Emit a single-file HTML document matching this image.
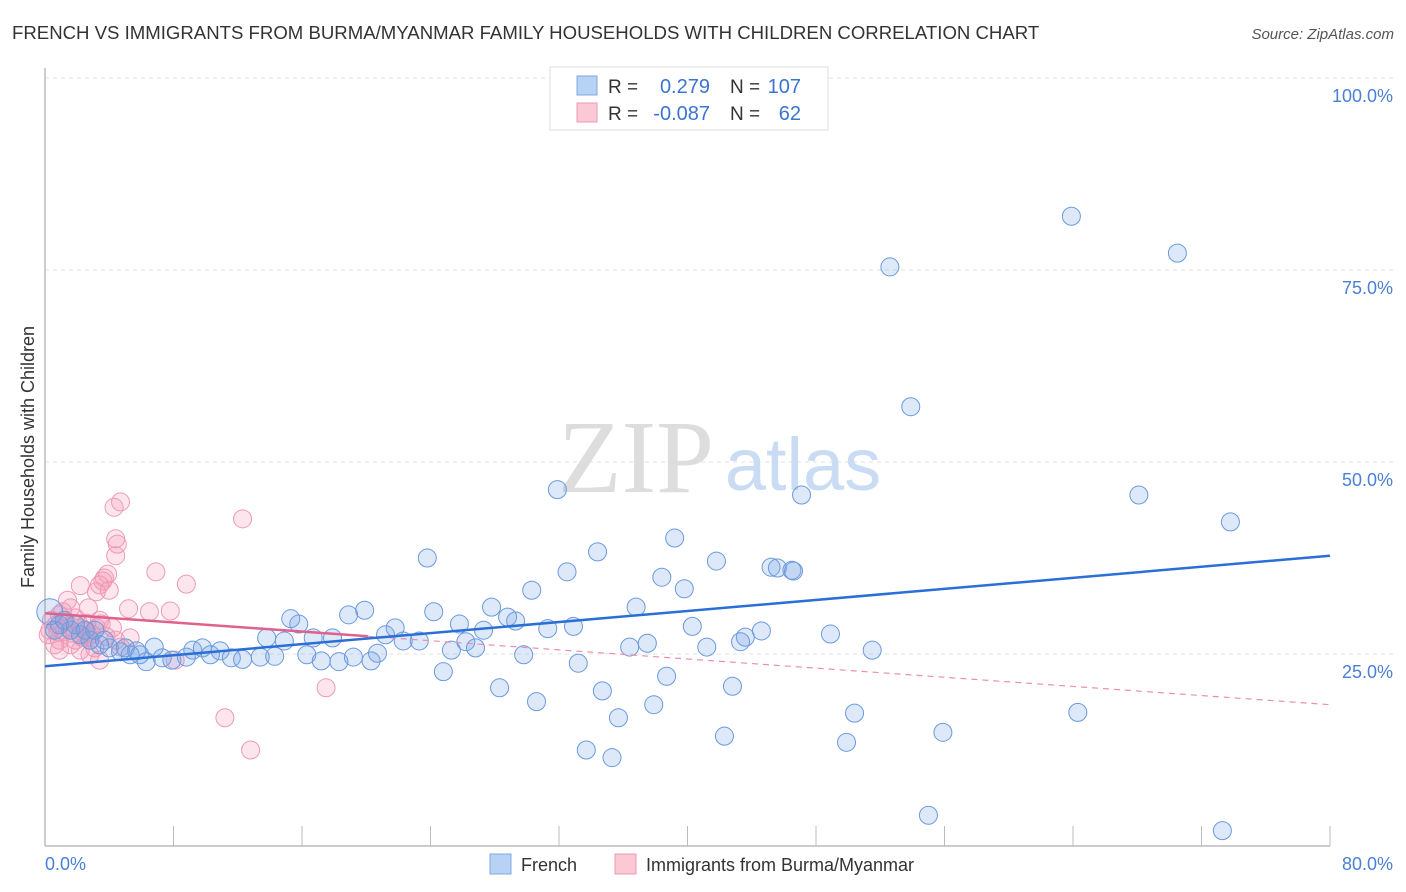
<!DOCTYPE html>
<html><head><meta charset="utf-8"><style>
body{margin:0;background:#fff;font-family:"Liberation Sans",sans-serif}
svg{display:block}
</style></head><body>
<svg width="1406" height="892" xmlns="http://www.w3.org/2000/svg">
<text x="12" y="39" font-size="18.6" fill="#333">FRENCH VS IMMIGRANTS FROM BURMA/MYANMAR FAMILY HOUSEHOLDS WITH CHILDREN CORRELATION CHART</text>
<text x="1394" y="39" font-size="15" fill="#555" font-style="italic" text-anchor="end">Source: ZipAtlas.com</text>
<g id="grid"></g>
<g id="yticks"></g>
<text x="34" y="457" font-size="18" fill="#333" text-anchor="middle" transform="rotate(-90 34 457)">Family Households with Children</text>
<text x="636" y="492" font-size="104" fill="#ddd" font-family="Liberation Serif,serif" text-anchor="middle">ZIP</text>
<text x="803" y="490" font-size="74" fill="#c9dcf3" text-anchor="middle">atlas</text>
<line x1="45" y1="68" x2="45" y2="846" stroke="#bbb" stroke-width="1.5"/>
<line x1="45" y1="846" x2="1330" y2="846" stroke="#bbb" stroke-width="1.5"/>
<g id="xticks"></g>
<g id="pts"></g>
<g id="lines"></g>
<text x="45" y="870" font-size="18" fill="#4a7fd4">0.0%</text>
<text x="1393" y="870" font-size="18" fill="#4a7fd4" text-anchor="end">80.0%</text>
<g>
<rect x="550" y="67" width="278" height="63" fill="#fff" stroke="#ddd"/>
<rect x="577" y="76" width="20" height="19" fill="#b8d2f5" stroke="#7ea8e0"/>
<rect x="577" y="103" width="20" height="19" fill="#fbc8d6" stroke="#ec9ab3"/>
<text x="608" y="93" font-size="19" fill="#333">R =</text>
<text x="710" y="93" font-size="20" fill="#3b74d0" text-anchor="end">0.279</text>
<text x="730" y="93" font-size="19" fill="#333">N =</text>
<text x="801" y="93" font-size="20" fill="#3b74d0" text-anchor="end">107</text>
<text x="608" y="120" font-size="19" fill="#333">R =</text>
<text x="710" y="120" font-size="20" fill="#3b74d0" text-anchor="end">-0.087</text>
<text x="730" y="120" font-size="19" fill="#333">N =</text>
<text x="801" y="120" font-size="20" fill="#3b74d0" text-anchor="end">62</text>
</g>
<g>
<rect x="490" y="854" width="21" height="20" fill="#b8d2f5" stroke="#7ea8e0"/>
<text x="521" y="871" font-size="18" fill="#333">French</text>
<rect x="615" y="854" width="21" height="20" fill="#fbc8d6" stroke="#ec9ab3"/>
<text x="646" y="871" font-size="18" fill="#333">Immigrants from Burma/Myanmar</text>
</g>
</svg>
<script>
const yTicks=[100,75,50,25];
const yTickLabels=["100.0%","75.0%","50.0%","25.0%"];
const xTickVals=[8,16,24,32,40,48,56,64,72,80];
const frenchX=[63.9,70.5,52.6,53.9,31.9,47.1,68.1,73.8,23.8,39.2,34.4,41.8,45.2,45.6,46.5,46.6,32.5,38.4,30.3,39.8,19.9,18.9,24.2,27.8,36.8,28.8,29.3,15.3,15.8,25.8,21.8,32.9,31.3,27.3,40.3,44.6,48.9,43.6,21.2,13.8,16.7,17.9,22.3,23.3,26.2,14.9,43.3,36.4,37.5,41.2,25.3,26.8,51.5,6.8,9.8,10.9,9.2,11.6,12.3,13.4,14.3,16.3,17.2,18.3,19.2,20.3,20.7,29.8,33.2,24.8,38.7,28.3,42.8,34.7,30.6,37.9,35.7,50.4,64.3,33.7,35.3,42.3,49.9,55.9,55.0,73.3,5.7,6.3,7.3,7.9,8.8,4.0,4.7,5.3,3.4,2.8,2.2,1.6,0.9,0.3,0.6,1.2,1.9,2.5,3.1,3.7,5.0,5.9,10.3];
const frenchY=[82.0,77.2,75.4,57.2,46.4,45.7,45.7,42.2,37.5,40.1,38.3,37.1,36.3,36.2,35.9,35.8,35.7,35.0,33.3,33.5,30.7,30.1,30.5,31.1,31.1,29.8,29.3,29.6,28.9,28.9,28.4,28.6,28.3,28.1,28.6,28.0,27.6,27.2,27.5,27.1,27.1,27.1,26.7,26.7,26.6,26.7,26.6,25.9,26.4,25.9,25.5,25.8,25.5,25.9,25.8,25.4,25.5,24.5,24.3,24.6,24.7,24.9,24.1,24.0,24.6,24.1,25.1,24.9,23.8,22.7,22.1,20.6,20.8,20.2,18.8,18.4,16.7,17.3,17.4,12.5,11.5,14.3,13.5,14.8,4.0,2.0,25.4,24.0,24.5,24.2,24.6,25.8,25.3,24.9,26.2,26.8,27.5,28.1,28.8,30.5,28.1,29.4,28.8,28.1,28.1,26.8,25.8,24.9,24.9];
const burmaX=[4.7,4.3,12.3,4.4,4.5,4.4,6.9,8.8,2.2,3.4,3.7,3.9,3.6,4.0,3.2,5.2,6.5,7.8,1.4,2.7,2.6,0.9,1.6,3.4,4.2,5.3,2.8,2.2,0.9,0.6,0.3,0.4,1.2,1.9,3.1,3.4,4.7,8.1,2.8,0.9,1.6,2.2,0.2,0.7,1.3,1.9,2.6,3.2,3.8,4.4,17.5,11.2,12.8,1.1,1.7,2.3,2.9,3.5,0.8,1.4,2.1,2.7];
const burmaY=[44.8,44.1,42.6,40.0,39.3,37.8,35.7,34.1,33.9,34.0,34.9,35.4,34.5,33.3,33.1,30.9,30.5,30.6,32.0,31.0,29.0,30.1,31.0,29.4,28.4,27.1,26.8,28.4,26.8,26.2,28.1,29.4,27.9,26.8,25.8,24.2,25.9,24.2,24.9,25.5,26.2,25.5,27.5,28.8,29.2,29.7,27.9,28.4,27.3,26.8,20.6,16.7,12.5,30.5,27.7,27.2,27.6,28.9,27.9,28.4,28.9,27.3];
const frenchTrend=[23.4,37.8];
const burmaTrend=[30.3,18.4];
const burmaSolidEnd=20.1;
const NS="http://www.w3.org/2000/svg";
const X=v=>45+v*(1285/80), Y=v=>846-v*7.68;
function mk(tag,attrs,parent){const e=document.createElementNS(NS,tag);for(const k in attrs)e.setAttribute(k,attrs[k]);parent.appendChild(e);return e;}
const grid=document.getElementById('grid'),yt=document.getElementById('yticks'),xt=document.getElementById('xticks'),pts=document.getElementById('pts'),lines=document.getElementById('lines');
yTicks.forEach((t,i)=>{
 const l=mk('line',{x1:45,x2:1394,y1:Y(t),y2:Y(t),stroke:'#e2e2e2','stroke-dasharray':'4,4'},grid);
 
 
 const tx=mk('text',{x:1393,y:Y(t)+24,'font-size':18,fill:'#4a7fd4','text-anchor':'end'},yt);
 tx.textContent=yTickLabels[i];
 
 
});
xTickVals.forEach(t=>{
 const l=mk('line',{x1:X(t),x2:X(t),y1:826,y2:846,stroke:'#bbb'},xt);
 
 
});
burmaX.forEach((v,i)=>{
 const c=mk('circle',{cx:X(v),cy:Y(burmaY[i]),r:9,fill:'rgba(244,150,180,0.25)',stroke:'#ee9ab6','stroke-width':1},pts);
 
 
});
frenchX.forEach((v,i)=>{
 const c=mk('circle',{cx:X(v),cy:Y(frenchY[i]),r:(i==99?13:9),fill:'rgba(120,165,230,0.25)',stroke:'#6a9ade','stroke-width':1},pts);
 
 
});
const bAt=x=>burmaTrend[0]+(burmaTrend[1]-burmaTrend[0])*x/80;
let l1=mk('line',{x1:X(burmaSolidEnd),y1:Y(bAt(burmaSolidEnd)),x2:X(80),y2:Y(burmaTrend[1]),stroke:'#eb8fae','stroke-width':1.2,'stroke-dasharray':'6,5'},lines);


let l2=mk('line',{x1:X(0),y1:Y(burmaTrend[0]),x2:X(burmaSolidEnd),y2:Y(bAt(burmaSolidEnd)),stroke:'#e0608e','stroke-width':2.5},lines);


let l3=mk('line',{x1:X(0),y1:Y(frenchTrend[0]),x2:X(80),y2:Y(frenchTrend[1]),stroke:'#2a6fd6','stroke-width':2.5},lines);


</script>
</body></html>
